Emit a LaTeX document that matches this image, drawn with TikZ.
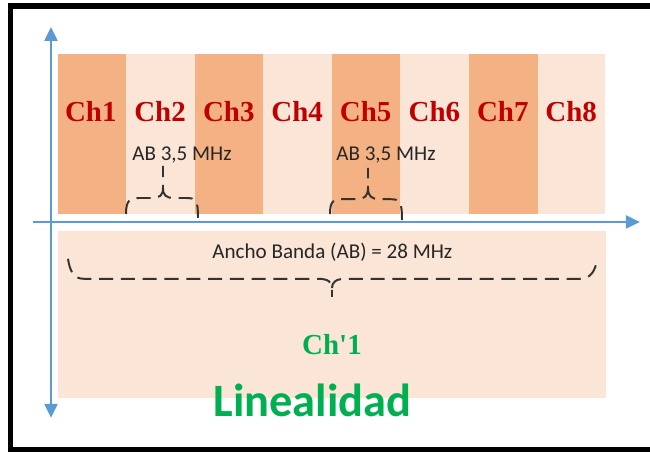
\documentclass[tikz,border=0pt]{standalone}
\usepackage{fontspec}
\setmainfont{Liberation Serif}
\newfontfamily\calibri{Carlito}
\usetikzlibrary{arrows.meta}

\definecolor{naranja}{HTML}{F4B183}
\definecolor{salmon}{HTML}{FBE5D6}
\definecolor{azul}{HTML}{5B9BD5}
\definecolor{rojo}{HTML}{C00000}
\definecolor{verde}{HTML}{00B050}
\definecolor{gris}{HTML}{333333}

\tikzstyle{oscuro}= [rectangle,fill=naranja,inner sep=0pt,minimum width=1.73cm,minimum height=4cm]
\tikzstyle{claro}= [rectangle,fill=salmon,inner sep=0pt,minimum width=1.73cm,minimum height=4cm]
\tikzstyle{canal}= [text=rojo,font=\fontsize{20.6}{22}\selectfont\bfseries]
\tikzstyle{ancho}= [text=black!85,font=\calibri\fontsize{15}{17}\selectfont]
\tikzstyle{eje}= [azul,line width=2.1pt]
\tikzstyle{llave}= [gris,line width=1.4pt,dash pattern=on 10pt off 5.5pt]

\begin{document}
\begin{tikzpicture}

		\useasboundingbox (0,0) rectangle (16.25,11.3);
		\draw[black,line width=3.6pt] (16.6,11.15) -- (0.26,11.15) -- (0.26,0.05) -- (16.6,0.05);

		\node (c1) at (2.306,7.95) [oscuro] {};
		\node (c2) at (4.019,7.95) [claro] {};
		\node (c3) at (5.731,7.95) [oscuro] {};
		\node (c4) at (7.444,7.95) [claro] {};
		\node (c5) at (9.156,7.95) [oscuro] {};
		\node (c6) at (10.869,7.95) [claro] {};
		\node (c7) at (12.581,7.95) [oscuro] {};
		\node (c8) at (14.285,7.95) [claro,minimum width=1.695cm] {};

		\node (t1) at (2.27,8.5) [canal] {Ch1};
		\node (t2) at (4.0,8.5) [canal] {Ch2};
		\node (t3) at (5.72,8.5) [canal] {Ch3};
		\node (t4) at (7.43,8.5) [canal] {Ch4};
		\node (t5) at (9.14,8.5) [canal] {Ch5};
		\node (t6) at (10.86,8.5) [canal] {Ch6};
		\node (t7) at (12.57,8.5) [canal] {Ch7};
		\node (t8) at (14.28,8.5) [canal] {Ch8};

		\node (total) at (8.3,3.44) [rectangle,fill=salmon,inner sep=0pt,minimum width=13.7cm,minimum height=4.18cm] {};

		\coordinate (xi) at (0.83,5.75);
		\coordinate (xf) at (16.0,5.75);
		\coordinate (yi) at (1.275,0.85);
		\coordinate (yf) at (1.275,10.63);
		\draw[eje,-{Triangle[length=10pt,width=9pt]}] (xi) -- (xf);
		\draw[eje,{Triangle[length=10pt,width=9pt]}-{Triangle[length=10pt,width=9pt]}] (yi) -- (yf);

		\node (ab2) at (4.55,7.43) [ancho] {AB 3,5 MHz};
		\node (ab5) at (9.65,7.43) [ancho] {AB 3,5 MHz};
		\node (abt) at (8.31,5.0) [ancho] {Ancho Banda (AB) = 28 MHz};

		% llaves de los canales 2 y 5
		\draw[llave] (3.15,5.95) .. controls (3.15,6.3) and (3.25,6.35) .. (3.5,6.35) -- (3.8,6.35) .. controls (4.0,6.35) and (4.075,6.42) .. (4.075,6.6) -- (4.075,7.15);
		\draw[llave] (4.075,6.6) .. controls (4.075,6.42) and (4.15,6.35) .. (4.35,6.35) -- (4.65,6.35) .. controls (4.9,6.35) and (4.95,6.3) .. (4.95,5.85);
		\draw[llave] (8.25,5.95) .. controls (8.25,6.3) and (8.35,6.32) .. (8.6,6.32) -- (8.9,6.32) .. controls (9.12,6.32) and (9.2,6.4) .. (9.2,6.6) -- (9.2,7.1);
		\draw[llave] (9.2,6.6) .. controls (9.2,6.4) and (9.28,6.32) .. (9.5,6.32) -- (9.75,6.32) .. controls (10.0,6.32) and (10.05,6.27) .. (10.05,5.78);

		% llave del ancho total
		\draw[llave] (1.7,4.83) .. controls (1.75,4.5) and (1.85,4.33) .. (2.1,4.33) -- (7.95,4.33) .. controls (8.2,4.33) and (8.3,4.25) .. (8.3,4.1) -- (8.3,3.88);
		\draw[llave] (8.3,4.1) .. controls (8.3,4.25) and (8.4,4.33) .. (8.65,4.33) -- (14.5,4.33) .. controls (14.75,4.33) and (14.88,4.5) .. (14.93,4.83);

		\node (ch1p) at (8.3,2.675) [canal,text=verde] {Ch\textquotesingle 1};
		\node (lin) at (7.81,0.875) [anchor=base,text=verde,font=\calibri\fontsize{33}{36}\selectfont\bfseries] {Linealidad};

\end{tikzpicture}
\end{document}
